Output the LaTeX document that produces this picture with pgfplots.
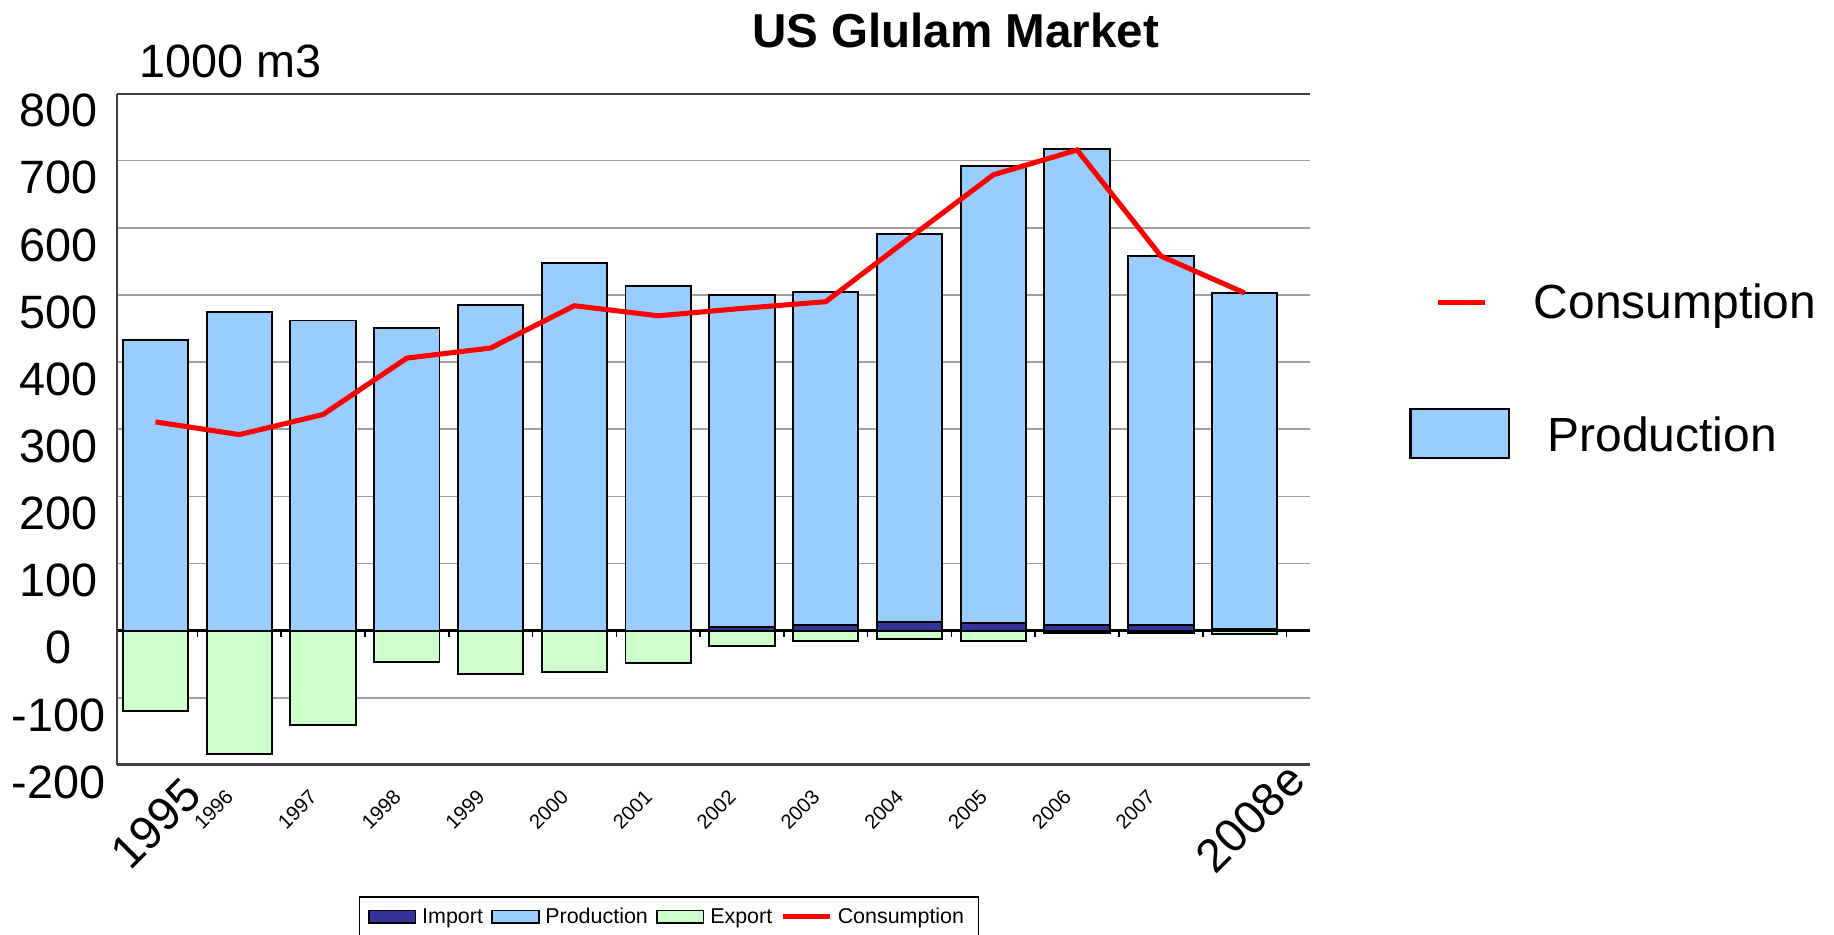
\documentclass[border=0pt]{standalone}
\usepackage{pgfplots}
\pgfplotsset{compat=1.18}
\usepackage{pgfplotstable}
\usepackage{fontspec}
\setmainfont{Liberation Sans}

\definecolor{imp}{HTML}{333399}
\definecolor{prod}{HTML}{99CCFF}
\definecolor{expo}{HTML}{CCFFCC}
\newcommand{\fsz}[1]{\fontsize{#1}{#1}\selectfont}

% 1000 m3; prod = production on top of import
\pgfplotstableread{
x imp prod exp cons
0 0 433 -120 311
1 0 474 -184 292
2 0 462 -141 322
3 0 451 -46 406
4 0 485 -65 421
5 0 548 -62 484
6 0 514 -48 469
7 6 494 -23 480
8 8 497 -15 490
9 13 578 -13 585
10 11 681 -15 679
11 8 709 -3 716
12 8 550 -3 558
13 2 501 -5 503
}\glulam

\begin{document}
\begin{tikzpicture}
\begin{axis}[
    at={(0,0)}, anchor=south west,
    scale only axis, width=306pt, height=172.2pt,
    xmin=-0.46, xmax=13.78, ymin=-200, ymax=800,
    clip=false,
    axis line style={draw=none},
    major tick length=0pt,
    ytick={-200,-100,...,800},
    yticklabels={-200,-100,0,100,200,300,400,500,600,700,800},
    ymajorgrids, grid style={gray!75, line width=0.4pt},
    extra y ticks={0}, extra y tick labels={},
    extra y tick style={grid style={black, line width=0.7pt}},
    yticklabel style={font=\fsz{12}, anchor=center, xshift=-15pt, yshift=-4.4pt},
    xtick={1,...,12},
    xticklabels={1996,1997,1998,1999,2000,2001,2002,2003,2004,2005,2006,2007},
    xticklabel style={font=\fsz{5.2}, xshift=-6.6pt, yshift=-11.4pt, rotate=45, anchor=center},
    extra x ticks={0,13}, extra x tick labels={1995\hspace{4pt},\hspace{4pt}2008e},
    extra x tick style={every x tick label/.style={font=\fsz{12}, yshift=-15pt, rotate=45, anchor=center}},
    legend style={at={(0.4627,-0.1955)}, anchor=north, legend columns=4,
        font=\fsz{5.5}, draw=black, inner xsep=2.2pt, inner ysep=1.8pt,
        nodes={inner xsep=1.5pt, inner ysep=0pt, text height=4.9pt, text depth=4pt},
        /tikz/every even column/.append style={column sep=0.6pt}},
]
\addplot[ybar, bar width=0.78, bar shift=0pt, fill=prod, draw=black, line width=0.5pt, forget plot]
    table[x=x, y expr=\thisrow{imp}+\thisrow{prod}] {\glulam};
\addplot[ybar, bar width=0.78, bar shift=0pt, fill=imp, draw=black, line width=0.5pt, forget plot]
    table[x=x, y=imp] {\glulam};
\addplot[ybar, bar width=0.78, bar shift=0pt, fill=expo, draw=black, line width=0.5pt, forget plot]
    table[x=x, y=exp] {\glulam};
\addplot[red, line width=1.3pt, sharp plot, no marks, forget plot]
    table[x=x, y=cons] {\glulam};

\pgfplotsinvokeforeach{0.5,1.5,...,13.5}{\draw[black, line width=0.4pt] (axis cs:#1,0) -- ++(0pt,-1.6pt);}
\draw[black!75, line width=0.5pt] (rel axis cs:0,1) -- (rel axis cs:0,0);
\draw[black!75, line width=0.8pt] (rel axis cs:0,0) -- (rel axis cs:1,0);
\draw[black!75, line width=0.5pt] (rel axis cs:0,1) -- (rel axis cs:1,1);

\addlegendimage{legend image code/.code={\draw[fill=imp,draw=black,line width=0.4pt] (0pt,-0.4pt) rectangle (12pt,2.8pt);}}
\addlegendentry{Import}
\addlegendimage{legend image code/.code={\draw[fill=prod,draw=black,line width=0.4pt] (0pt,-0.4pt) rectangle (12pt,2.8pt);}}
\addlegendentry{Production}
\addlegendimage{legend image code/.code={\draw[fill=expo,draw=black,line width=0.4pt] (0pt,-0.4pt) rectangle (12pt,2.8pt);}}
\addlegendentry{Export}
\addlegendimage{legend image code/.code={\draw[red,line width=1.2pt] (0pt,1.2pt) -- (12pt,1.2pt);}}
\addlegendentry{Consumption}
\end{axis}

\node[font=\bfseries\fsz{12.2}] at (215.1pt,188.4pt) {US Glulam Market};
\node[font=\fsz{12}] at (29.1pt,180.4pt) {1000 m3};

% second legend on the right
\draw[red, line width=1.3pt] (338.9pt,118.7pt) -- (350.9pt,118.7pt);
\node[anchor=west, inner sep=0pt, font=\fsz{12.3}] at (363.2pt,117.8pt) {Consumption};
\draw[fill=prod, draw=black, line width=0.6pt] (331.8pt,78.7pt) rectangle (357pt,91.3pt);
\node[anchor=west, inner sep=0pt, font=\fsz{12.3}] at (366.7pt,84.8pt) {Production};

\pgfresetboundingbox
\path[use as bounding box] (-30pt,-43.5pt) rectangle (440.4pt,196.2pt);
\end{tikzpicture}
\end{document}
